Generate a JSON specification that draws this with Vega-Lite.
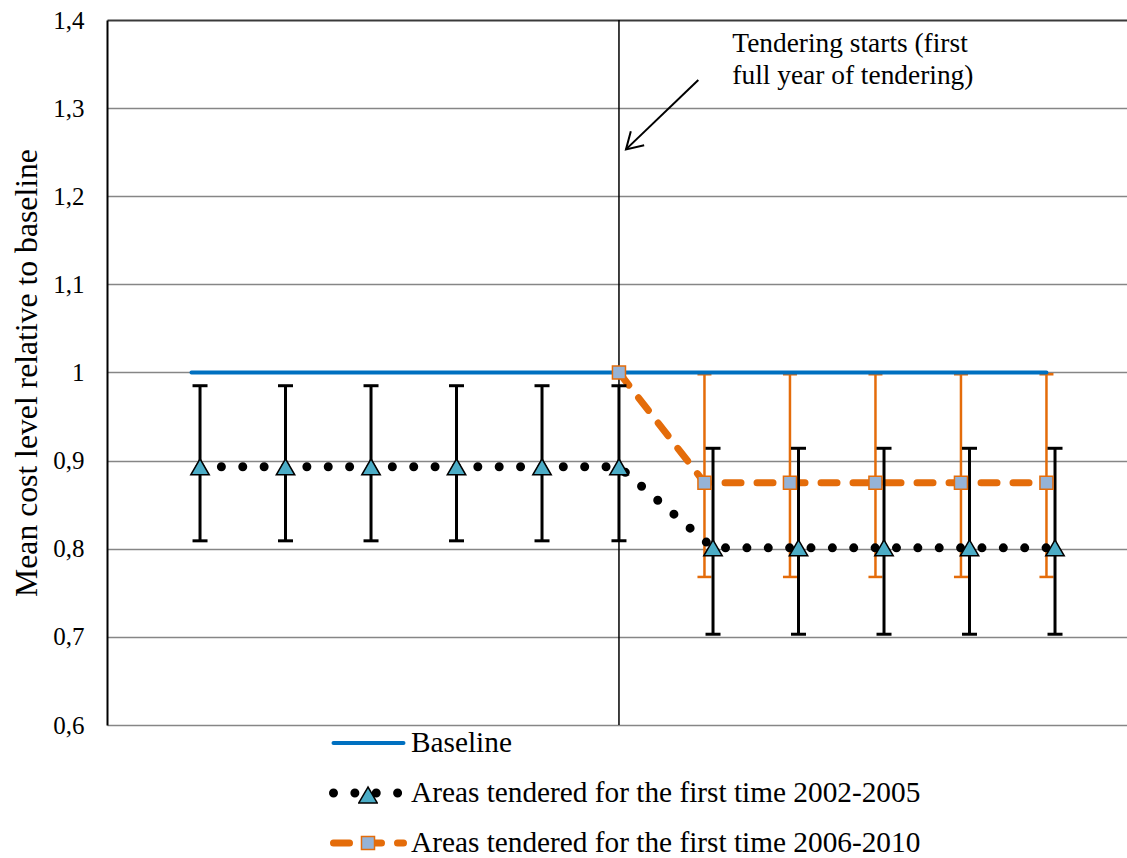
{
  "$schema": "https://vega.github.io/schema/vega-lite/v6.json",
  "width": 1020,
  "height": 705,
  "autosize": {"type": "none"},
  "padding": {"left": 107, "top": 20, "right": 0, "bottom": 133},
  "background": "white",
  "config": {
    "view": {"stroke": null},
    "font": "Liberation Serif",
    "axis": {"titleFont": "Liberation Serif", "labelFont": "Liberation Serif", "titleFontWeight": "normal"},
    "legend": {"labelFont": "Liberation Serif", "titleFont": "Liberation Serif"},
    "style": {
      "guide-label": {"font": "Liberation Serif"},
      "guide-title": {"font": "Liberation Serif", "fontWeight": "normal"}
    }
  },
  "datasets": {
    "pts": [
      {"series": "Baseline", "x": 0.9, "y": 1.0},
      {"series": "Baseline", "x": 1.9, "y": 1.0},
      {"series": "Baseline", "x": 2.9, "y": 1.0},
      {"series": "Baseline", "x": 3.9, "y": 1.0},
      {"series": "Baseline", "x": 4.9, "y": 1.0},
      {"series": "Baseline", "x": 5.9, "y": 1.0},
      {"series": "Baseline", "x": 6.9, "y": 1.0},
      {"series": "Baseline", "x": 7.9, "y": 1.0},
      {"series": "Baseline", "x": 8.9, "y": 1.0},
      {"series": "Baseline", "x": 9.9, "y": 1.0},
      {"series": "Baseline", "x": 10.9, "y": 1.0},
      {"series": "Areas tendered for the first time 2006-2010", "x": 5.9, "y": 1.0, "lo": null, "hi": null},
      {"series": "Areas tendered for the first time 2006-2010", "x": 6.9, "y": 0.875, "lo": 0.768, "hi": 0.998},
      {"series": "Areas tendered for the first time 2006-2010", "x": 7.9, "y": 0.875, "lo": 0.768, "hi": 0.998},
      {"series": "Areas tendered for the first time 2006-2010", "x": 8.9, "y": 0.875, "lo": 0.768, "hi": 0.998},
      {"series": "Areas tendered for the first time 2006-2010", "x": 9.9, "y": 0.875, "lo": 0.768, "hi": 0.998},
      {"series": "Areas tendered for the first time 2006-2010", "x": 10.9, "y": 0.875, "lo": 0.768, "hi": 0.998},
      {"series": "Areas tendered for the first time 2002-2005", "x": 1, "y": 0.893, "lo": 0.809, "hi": 0.985},
      {"series": "Areas tendered for the first time 2002-2005", "x": 2, "y": 0.893, "lo": 0.809, "hi": 0.985},
      {"series": "Areas tendered for the first time 2002-2005", "x": 3, "y": 0.893, "lo": 0.809, "hi": 0.985},
      {"series": "Areas tendered for the first time 2002-2005", "x": 4, "y": 0.893, "lo": 0.809, "hi": 0.985},
      {"series": "Areas tendered for the first time 2002-2005", "x": 5, "y": 0.893, "lo": 0.809, "hi": 0.985},
      {"series": "Areas tendered for the first time 2002-2005", "x": 5.9, "y": 0.893, "lo": 0.809, "hi": 0.985},
      {"series": "Areas tendered for the first time 2002-2005", "x": 7, "y": 0.801, "lo": 0.703, "hi": 0.914},
      {"series": "Areas tendered for the first time 2002-2005", "x": 8, "y": 0.801, "lo": 0.703, "hi": 0.914},
      {"series": "Areas tendered for the first time 2002-2005", "x": 9, "y": 0.801, "lo": 0.703, "hi": 0.914},
      {"series": "Areas tendered for the first time 2002-2005", "x": 10, "y": 0.801, "lo": 0.703, "hi": 0.914},
      {"series": "Areas tendered for the first time 2002-2005", "x": 11, "y": 0.801, "lo": 0.703, "hi": 0.914}
    ]
  },
  "data": {"name": "pts"},
  "layer": [
    {
      "mark": {"type": "line", "opacity": 0},
      "encoding": {
        "x": {"field": "x", "type": "quantitative", "scale": {"domain": [-0.088, 11.842], "nice": false, "zero": false}, "axis": null},
        "y": {
          "field": "y", "type": "quantitative",
          "scale": {"domain": [0.6, 1.4], "nice": false, "zero": false},
          "axis": {
            "values": [0.6, 0.7, 0.8, 0.9, 1.0, 1.1, 1.2, 1.3, 1.4],
            "labelExpr": "replace(format(datum.value, '.1~f'), '.', ',')",
            "grid": true,
            "gridColor": {"condition": {"test": "datum.value > 1.35", "value": "#3a3a3a"}, "value": "#868686"},
            "gridWidth": {"condition": {"test": "datum.value > 1.35", "value": 2}, "value": 1.5},
            "domainColor": "black",
            "domainWidth": 2,
            "ticks": false,
            "labelPadding": 23,
            "labelFont": "Liberation Serif",
            "labelFontSize": 25,
            "labelColor": "black",
            "title": "Mean cost level relative to baseline",
            "titleFont": "Liberation Serif",
            "titleFontSize": 31.7,
            "titleFontWeight": "normal",
            "titleColor": "black",
            "titlePadding": 9
          }
        }
      }
    },
    {
      "data": {"values": [{"event": 5.9}]},
      "mark": {"type": "rule", "color": "black", "strokeWidth": 1.5},
      "encoding": {
        "x": {"field": "event", "type": "quantitative", "axis": null}
      }
    },
    {
      "transform": [{"filter": "datum.series === 'Areas tendered for the first time 2006-2010' && isValid(datum.lo)"}],
      "layer": [
        {
          "mark": {"type": "rule", "color": "#E46C0A", "strokeWidth": 2.5},
          "encoding": {
            "x": {"field": "x", "type": "quantitative", "axis": null},
            "y": {"field": "lo", "type": "quantitative"},
            "y2": {"field": "hi"}
          }
        },
        {
          "mark": {"type": "tick", "orient": "horizontal", "color": "#E46C0A", "size": 14, "thickness": 2.5, "opacity": 1},
          "encoding": {
            "x": {"field": "x", "type": "quantitative", "axis": null},
            "y": {"field": "lo", "type": "quantitative"}
          }
        },
        {
          "mark": {"type": "tick", "orient": "horizontal", "color": "#E46C0A", "size": 14, "thickness": 2.5, "opacity": 1},
          "encoding": {
            "x": {"field": "x", "type": "quantitative", "axis": null},
            "y": {"field": "hi", "type": "quantitative"}
          }
        }
      ]
    },
    {
      "mark": {"type": "line", "strokeCap": "round", "strokeJoin": "round"},
      "encoding": {
        "x": {"field": "x", "type": "quantitative", "axis": null},
        "y": {"field": "y", "type": "quantitative"},
        "color": {
          "field": "series", "type": "nominal",
          "scale": {
            "domain": ["Baseline", "Areas tendered for the first time 2002-2005", "Areas tendered for the first time 2006-2010"],
            "range": ["#0070C0", "black", "#E46C0A"]
          },
          "legend": {
            "orient": "none",
            "legendX": 222,
            "legendY": 706,
            "direction": "vertical",
            "title": null,
            "symbolType": "stroke",
            "symbolSize": 4900,
            "clipHeight": 34,
            "rowPadding": 16,
            "padding": 0,
            "labelFont": "Liberation Serif",
            "labelFontSize": 29.3,
            "labelColor": "black",
            "labelOffset": 3,
            "labelLimit": 800,
            "encode": {"symbols": {"update": {"strokeCap": {"value": "round"}}}}
          }
        },
        "strokeDash": {
          "field": "series", "type": "nominal",
          "scale": {
            "domain": ["Baseline", "Areas tendered for the first time 2002-2005", "Areas tendered for the first time 2006-2010"],
            "range": [[1, 0], [0, 21.37], [16, 16]]
          }
        },
        "strokeWidth": {
          "field": "series", "type": "nominal",
          "scale": {
            "type": "ordinal",
            "domain": ["Baseline", "Areas tendered for the first time 2002-2005", "Areas tendered for the first time 2006-2010"],
            "range": [4, 9, 7]
          }
        }
      }
    },
    {
      "transform": [{"filter": "datum.series === 'Areas tendered for the first time 2002-2005'"}],
      "layer": [
        {
          "mark": {"type": "rule", "color": "black", "strokeWidth": 3},
          "encoding": {
            "x": {"field": "x", "type": "quantitative", "axis": null},
            "y": {"field": "lo", "type": "quantitative"},
            "y2": {"field": "hi"}
          }
        },
        {
          "mark": {"type": "tick", "orient": "horizontal", "color": "black", "size": 15, "thickness": 3, "opacity": 1},
          "encoding": {
            "x": {"field": "x", "type": "quantitative", "axis": null},
            "y": {"field": "lo", "type": "quantitative"}
          }
        },
        {
          "mark": {"type": "tick", "orient": "horizontal", "color": "black", "size": 15, "thickness": 3, "opacity": 1},
          "encoding": {
            "x": {"field": "x", "type": "quantitative", "axis": null},
            "y": {"field": "hi", "type": "quantitative"}
          }
        }
      ]
    },
    {
      "transform": [{"filter": "datum.series !== 'Baseline'"}],
      "mark": {"type": "point", "filled": true, "opacity": 1, "strokeWidth": 1.5},
      "encoding": {
        "x": {"field": "x", "type": "quantitative", "axis": null},
        "y": {"field": "y", "type": "quantitative"},
        "shape": {
          "field": "series", "type": "nominal",
          "scale": {"domain": ["Areas tendered for the first time 2002-2005", "Areas tendered for the first time 2006-2010"], "range": ["triangle-up", "square"]},
          "legend": {
            "orient": "none",
            "legendX": 251,
            "legendY": 758,
            "direction": "vertical",
            "title": null,
            "clipHeight": 34,
            "rowPadding": 14,
            "padding": 0,
            "labelExpr": "''",
            "labelOffset": 0,
            "symbolStrokeWidth": 1.5
          }
        },
        "fill": {
          "field": "series", "type": "nominal",
          "scale": {"domain": ["Areas tendered for the first time 2002-2005", "Areas tendered for the first time 2006-2010"], "range": ["#4BACC6", "#95B3D7"]}
        },
        "stroke": {
          "field": "series", "type": "nominal",
          "scale": {"domain": ["Areas tendered for the first time 2002-2005", "Areas tendered for the first time 2006-2010"], "range": ["black", "#E46C0A"]}
        },
        "size": {
          "field": "series", "type": "nominal",
          "scale": {"type": "ordinal", "domain": ["Areas tendered for the first time 2002-2005", "Areas tendered for the first time 2006-2010"], "range": [340, 170]}
        }
      }
    },
    {
      "data": {"values": [{"ax": 6.828, "ay": 1.332, "bx": 5.982, "by": 1.2532}]},
      "layer": [
        {
          "mark": {"type": "rule", "color": "black", "strokeWidth": 2},
          "encoding": {
            "x": {"field": "ax", "type": "quantitative", "axis": null},
            "y": {"field": "ay", "type": "quantitative"},
            "x2": {"field": "bx"},
            "y2": {"field": "by"}
          }
        },
        {
          "mark": {"type": "point", "shape": "M-0.6,-1L0,0L0.6,-1", "angle": 46, "size": 1024, "filled": false, "stroke": "black", "strokeWidth": 2, "opacity": 1},
          "encoding": {
            "x": {"field": "bx", "type": "quantitative", "axis": null},
            "y": {"field": "by", "type": "quantitative"}
          }
        }
      ]
    },
    {
      "data": {"values": [{"tx": 7.226, "ty": 1.364, "label": ["Tendering starts (first", "full year of tendering)"]}]},
      "mark": {"type": "text", "align": "left", "baseline": "alphabetic", "font": "Liberation Serif", "fontSize": 27.4, "lineHeight": 32, "color": "black"},
      "encoding": {
        "x": {"field": "tx", "type": "quantitative", "axis": null},
        "y": {"field": "ty", "type": "quantitative"},
        "text": {"field": "label"}
      }
    }
  ]
}
